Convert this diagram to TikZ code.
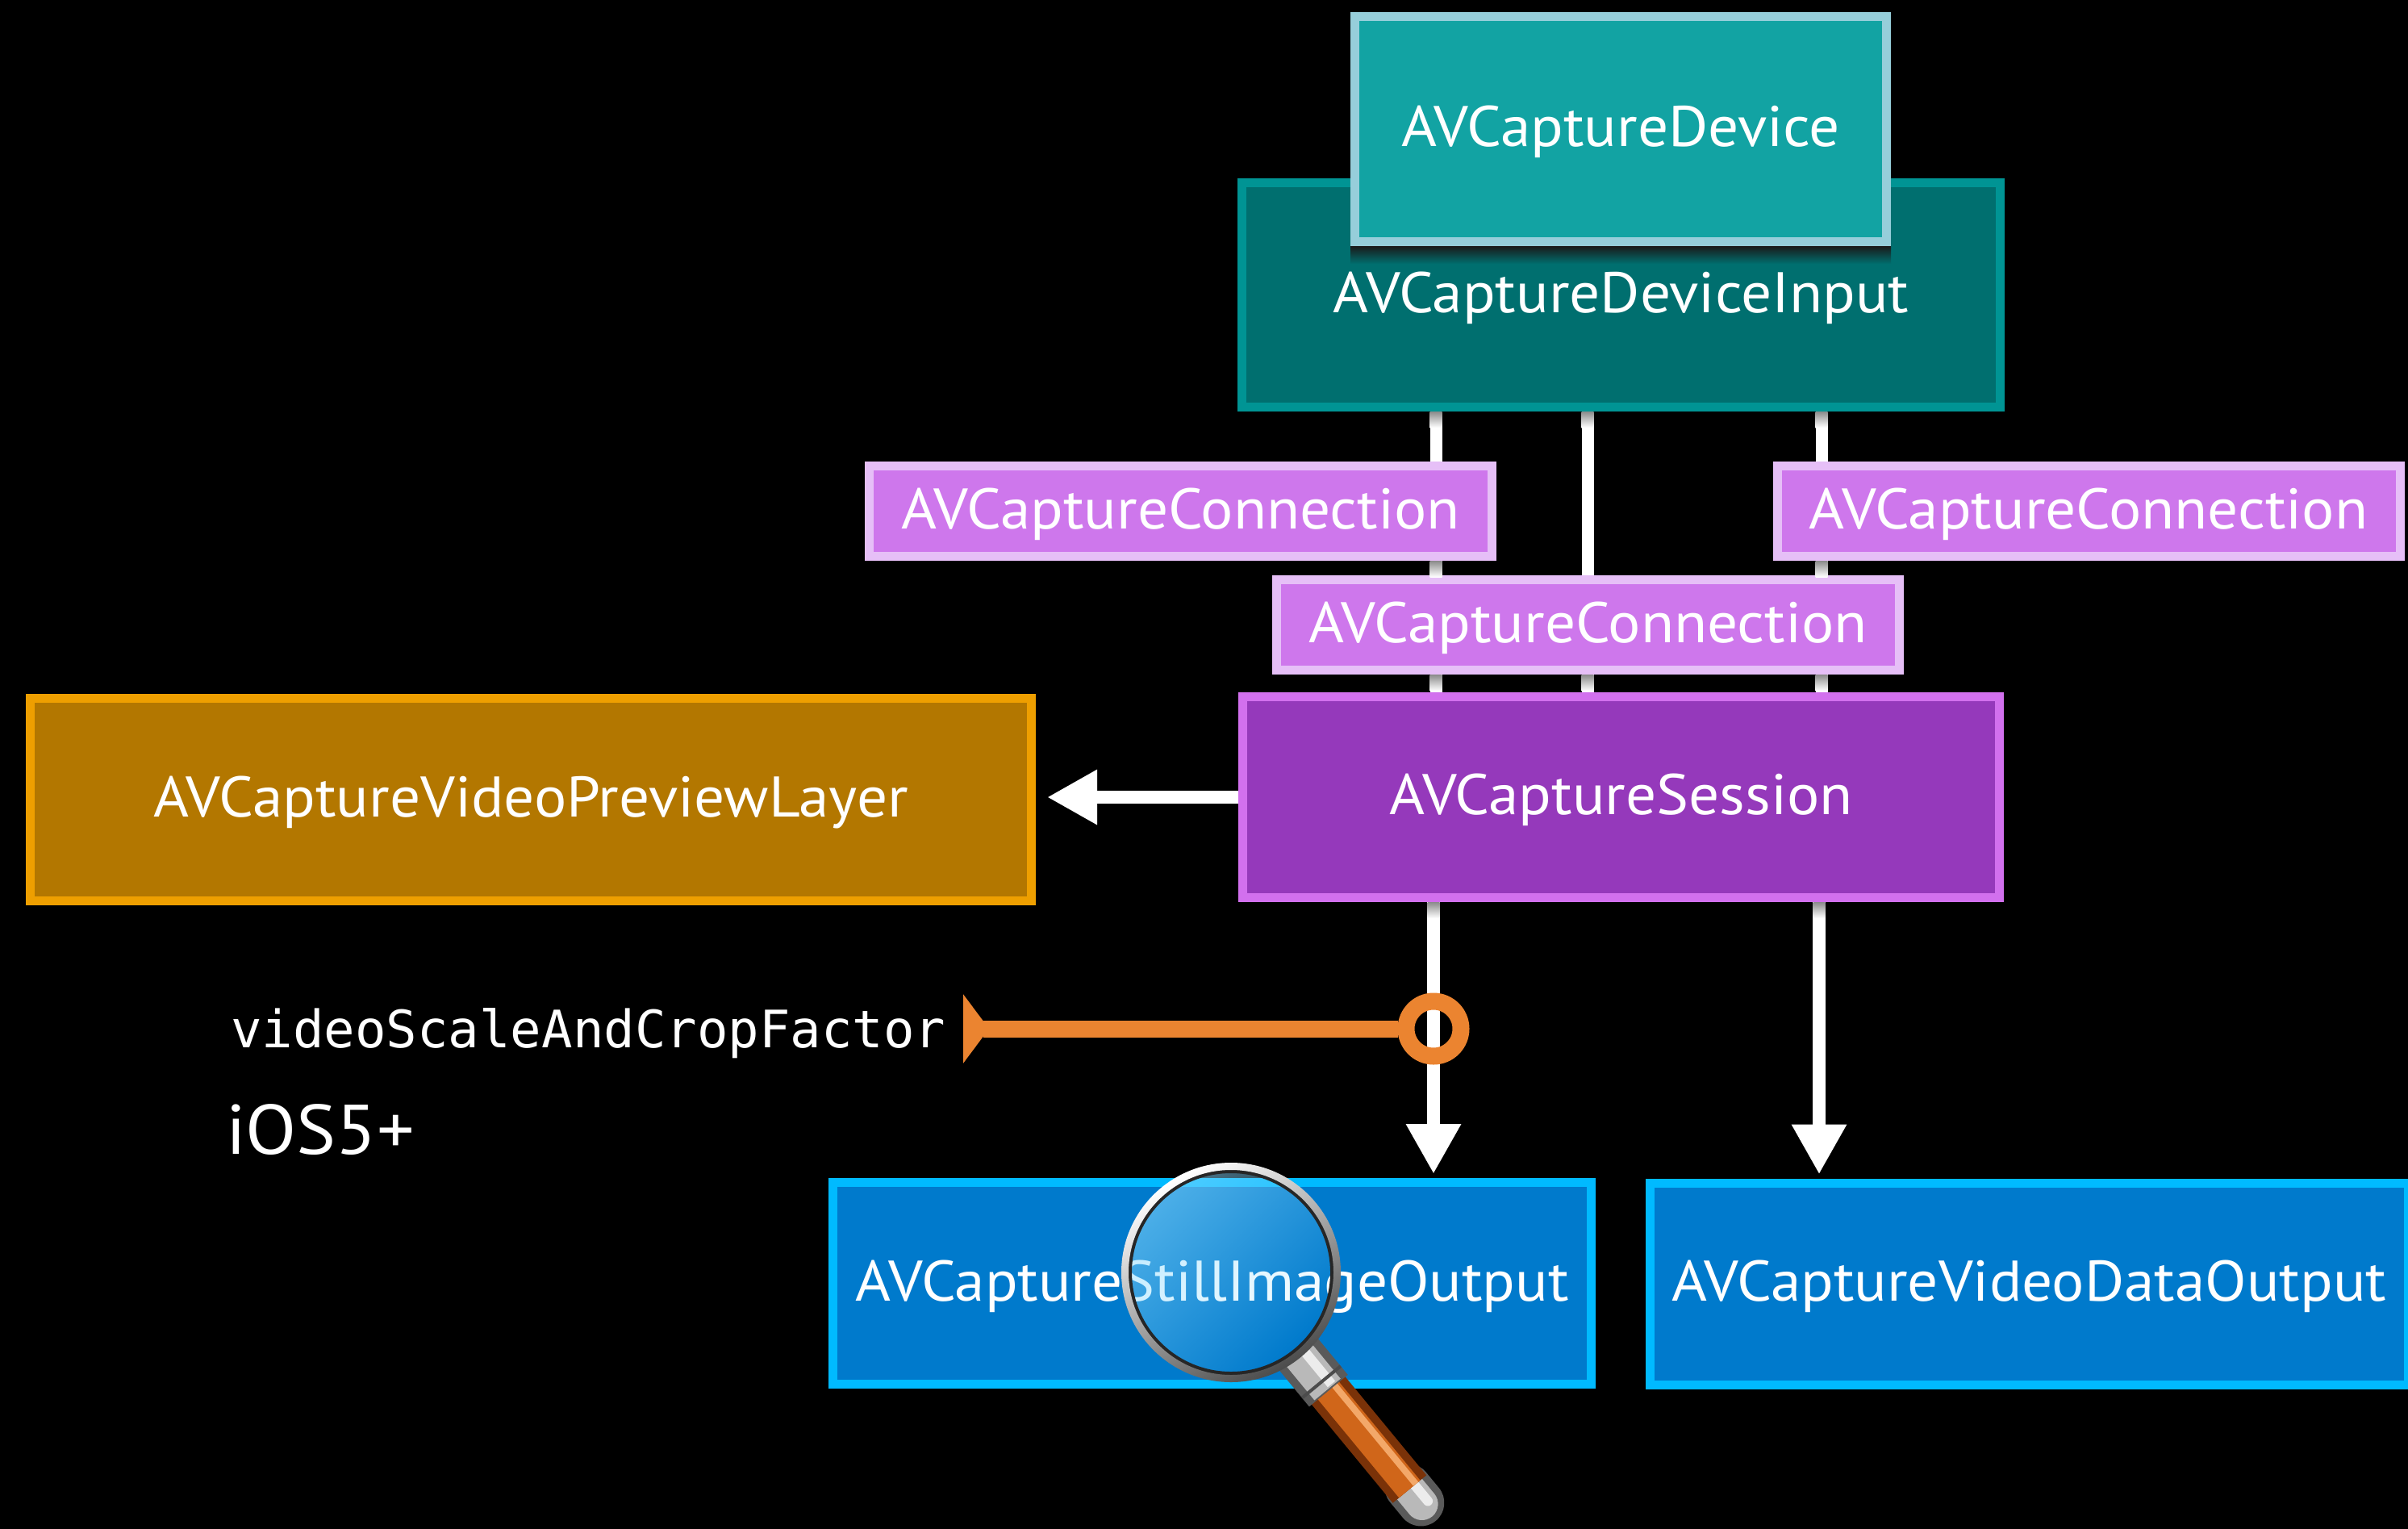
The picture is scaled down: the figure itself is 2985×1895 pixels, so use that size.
\documentclass[tikz,border=0pt]{standalone}
\usepackage{fontspec}
\setmainfont{PT Sans}[FakeStretch=1.06]
\newfontfamily\codefont{DejaVu Sans Mono}
\usetikzlibrary{arrows.meta, calc, fadings}

\definecolor{devfill}{HTML}{12A3A3}
\definecolor{devline}{HTML}{96CEDA}
\definecolor{infill}{HTML}{006F6F}
\definecolor{inline}{HTML}{009494}
\definecolor{connfill}{HTML}{CE77EC}
\definecolor{connline}{HTML}{E6BFF7}
\definecolor{sessfill}{HTML}{9539BB}
\definecolor{sessline}{HTML}{D270EE}
\definecolor{prevfill}{HTML}{B37700}
\definecolor{prevline}{HTML}{EE9F00}
\definecolor{outfill}{HTML}{007ACC}
\definecolor{outborder}{HTML}{00BAFF}
\definecolor{lever}{HTML}{EB8430}
\definecolor{wiregray}{HTML}{8A8A8A}
\definecolor{lenshi}{HTML}{8ADAFF}
\definecolor{metal}{HTML}{B9B9B9}
\definecolor{metaldark}{HTML}{5A5A5A}
\definecolor{wood}{HTML}{D0661A}
\definecolor{wooddark}{HTML}{7A3208}
\definecolor{woodlight}{HTML}{F3A869}

\newcommand\boxfont{\fontsize{71}{80}\selectfont}
\tikzfading[name=lensglow, top color=transparent!45, middle color=transparent!100, bottom color=transparent!100]

\begin{document}
\begin{tikzpicture}[x=1pt, y=-1pt,
    box/.style={draw, line width=11pt, inner sep=0pt, text=white, font=\boxfont,
                text height=55pt, text depth=12pt},
    devbox/.style={box, fill=devfill, draw=devline},
    inbox/.style={box, fill=infill, draw=inline},
    connbox/.style={box, fill=connfill, draw=connline, minimum width=772pt, minimum height=112pt},
    sessbox/.style={box, fill=sessfill, draw=sessline},
    prevbox/.style={box, fill=prevfill, draw=prevline},
    outbox/.style={box, fill=outfill, draw=outborder, minimum width=940pt, minimum height=250pt},
    wire/.style={draw=white, line width=15pt},
    flow/.style={draw=white, line width=16pt, -{Triangle[length=62pt, width=64pt]}},
    leverline/.style={draw=lever, line width=21pt, -{Triangle[reversed, length=32pt, width=84pt]}},
    knob/.style={circle, draw=lever, line width=21pt, minimum size=68pt, inner sep=0pt},
  ]
  \fill[black] (0,0) rectangle (2985,1895);
  \useasboundingbox (0,0) rectangle (2985,1895);

  % where the wires run
  \coordinate (w1) at (1780,0);
  \coordinate (w2) at (1968,0);
  \coordinate (w3) at (2258,0);
  \coordinate (s1) at (1777,0);
  \coordinate (s2) at (2255,0);

  \node[inbox, minimum width=940pt, minimum height=278pt] (input) at (2009.5,365.5) {AVCaptureDeviceInput};
  \node[sessbox, minimum width=938pt, minimum height=249pt] (session) at (2009.5,988) {AVCaptureSession};

  \foreach \w in {w1,w2,w3}
    \draw[wire, shorten <=6pt] (input.south -| \w) -- (session.north -| \w);

  \node[connbox] (connL) at (1463.5,633.5) {AVCaptureConnection};
  \node[connbox] (connR) at (2589,633.5) {AVCaptureConnection};
  \node[connbox] (connM) at (1968.5,774.5) {AVCaptureConnection};

  \node[devbox, minimum width=659pt, minimum height=279pt] (dev) at (2009,160) {AVCaptureDevice};
  \shade[top color=black!90, bottom color=infill] (dev.south west) rectangle ($(dev.south east)+(0,22)$);

  \node[prevbox, minimum width=1241pt, minimum height=251pt] (preview) at (658,991) {AVCaptureVideoPreviewLayer};
  \node[outbox] (still) at (1502.5,1590.5) {AVCaptureStillImageOutput};
  \node[outbox] (data) at (2515,1591) {AVCaptureVideoDataOutput};

  \draw[flow, shorten >=14pt] (session.west) -- (session.west -| preview.east);
  \draw[flow, shorten >=5pt] (session.south -| s1) -- (still.north -| s1);
  \draw[flow, shorten >=5pt] (session.south -| s2) -- (data.north -| s2);

  % grey fade where a wire leaves a box
  \foreach \b/\w in {input/w1,input/w2,input/w3,connL/w1,connR/w3,connM/w1,connM/w2,connM/w3,session/s1,session/s2}
    \shade[top color=wiregray, bottom color=white] ($(\b.south -| \w)+(-7.5,0)$) rectangle +(15,20);

  % zoom factor on the still image connection
  \node[knob] (crop) at (1777,1275) {};
  \coordinate (croptail) at (1194,1275);
  \draw[leverline] (crop.west) -- (croptail);

  \node[anchor=base west, inner sep=0pt, text=white, font=\codefont\fontsize{64}{70}\selectfont] (factor) at (286,1298) {videoScaleAndCropFactor};
  \node[anchor=base west, inner sep=0pt, text=white, font=\fontsize{87}{96}\selectfont] (ios) at (280,1430) {iOS5+};

  % magnifier
  \coordinate (lens) at (1526,1577);
  \begin{scope}[shift={(lens)}, rotate=-50.5]
    \draw[line width=58pt, metaldark, line cap=round] (345,0) -- (370,0);
    \draw[line width=40pt, metal, line cap=round] (345,0) -- (372,0);
    \draw[line width=12pt, white!85!gray, line cap=round] (348,-8) -- (374,-8);
    \draw[line width=54pt, wooddark] (188,0) -- (348,0);
    \draw[line width=34pt, wood] (188,0) -- (348,0);
    \draw[line width=8pt, woodlight] (188,-10) -- (348,-10);
    \draw[line width=62pt, metaldark] (124,0) -- (190,0);
    \draw[line width=42pt, metal] (126,0) -- (188,0);
    \draw[line width=12pt, white!85!gray] (128,-8) -- (186,-8);
    \draw[line width=4pt, black!70] (176,-31) -- (176,31);
  \end{scope}
  \fill[lenshi, path fading=lensglow, fading angle=45] (lens) circle[radius=124];
  \draw[line width=6pt, black!85] (lens) circle[radius=126];
  \shade[even odd rule, top color=white, bottom color=gray!60!black, shading angle=30]
    (lens) circle[radius=136] (lens) circle[radius=127];
\end{tikzpicture}
\end{document}
